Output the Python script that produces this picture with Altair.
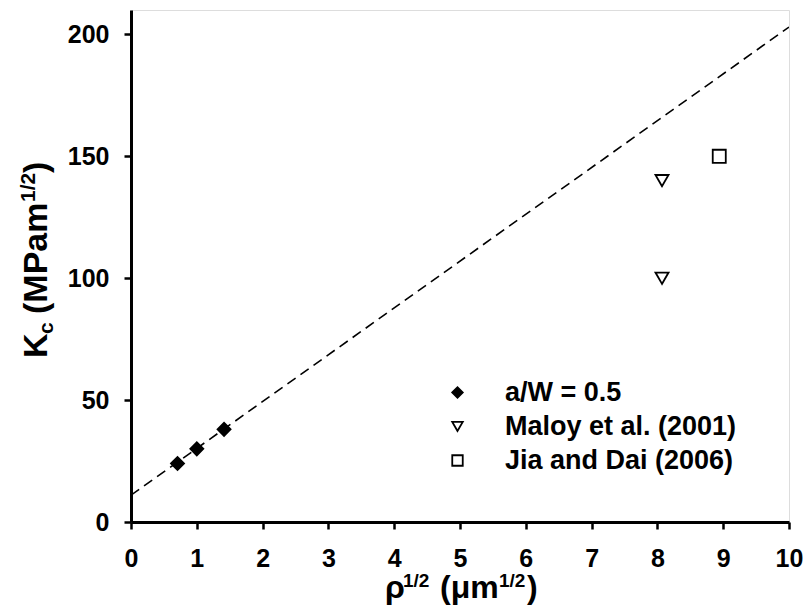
import altair as alt
import pandas as pd

# ---- data ----
aw_x = [0.707, 1.0, 1.414]
aw_y = [24, 30, 38]
maloy_x = [8.07, 8.07]
maloy_y = [140, 100]
jia_x = [8.94]
jia_y = [150]
fit_x = [0, 10]
fit_y = [11, 203]
series_names = ["a/W = 0.5", "Maloy et al. (2001)", "Jia and Dai (2006)"]
x_ticks = [i * 0.5 for i in range(21)]
y_ticks = [0, 50, 100, 150, 200]

pts = pd.DataFrame({
    "x": aw_x + maloy_x + jia_x,
    "y": aw_y + maloy_y + jia_y,
    "series": [series_names[0]] * len(aw_x) + [series_names[1]] * len(maloy_x) + [series_names[2]] * len(jia_x),
})
line_df = pd.DataFrame({"x": fit_x, "y": fit_y})

W, H = 658, 512
FONT = "Liberation Sans"

xscale = alt.Scale(domain=[0, 10], nice=False, zero=False)
yscale = alt.Scale(domain=[0, 210], nice=False, zero=False)

xaxis = alt.Axis(values=x_ticks,
                 labelExpr="datum.value % 1 == 0 ? format(datum.value, 'd') : ''",
                 labelOverlap=False, labelBound=False, labelFlush=False,
                 title=None, grid=False, tickSize=7, tickWidth=2.5, tickColor="black",
                 domainColor="black", domainWidth=3, labelFontSize=25, labelFont=FONT,
                 labelFontWeight="bold", labelColor="black", labelPadding=17)
yaxis = alt.Axis(values=y_ticks, title=None, grid=False, tickSize=7, tickWidth=2.5,
                 labelOverlap=False, labelFlush=False,
                 tickColor="black", domainColor="black", domainWidth=3, labelFontSize=25,
                 labelFont=FONT, labelFontWeight="bold", labelColor="black", labelPadding=15)

fit = alt.Chart(line_df).mark_line(color="black", strokeWidth=1.6, strokeDash=[10, 6], clip=True).encode(
    x=alt.X("x:Q", scale=xscale, axis=xaxis),
    y=alt.Y("y:Q", scale=yscale, axis=yaxis),
)

legend = alt.Legend(
    title=None, orient="none", legendX=313, legendY=369,
    labelFont=FONT, labelFontSize=27, labelFontWeight="bold", labelColor="black",
    symbolStrokeWidth=1.8, symbolSize=110, rowPadding=6,
    labelOffset=34, padding=0, labelLimit=400,
)

points = alt.Chart(pts).mark_point(filled=True, strokeWidth=1.8, size=170, opacity=1).encode(
    x=alt.X("x:Q", scale=xscale),
    y=alt.Y("y:Q", scale=yscale),
    shape=alt.Shape("series:N", scale=alt.Scale(domain=series_names, range=["diamond", "triangle-down", "square"]),
                    legend=legend),
    fill=alt.Fill("series:N", scale=alt.Scale(domain=series_names, range=["black", "white", "white"]),
                  legend=legend),
    stroke=alt.Stroke("series:N", scale=alt.Scale(domain=series_names, range=["black", "black", "black"]),
                      legend=legend),
)

base_txt = pd.DataFrame({"a": [0]})


def piece(text, x, y, size, angle=0):
    return alt.Chart(base_txt).mark_text(
        text=text, font=FONT, fontWeight="bold", fontSize=size, color="black",
        align="left", baseline="alphabetic", angle=angle,
    ).encode(x=alt.value(x), y=alt.value(y))


F, f = 32, 19
# x title: rho^{1/2} (mum^{1/2})
xt = [
    piece("ρ", 254, 588, F),
    piece("1/2", 272, 577, f),
    piece("(μm", 309, 588, F),
    piece("1/2", 368, 577, f),
    piece(")", 396, 588, F),
]
# y title: K_c (MPam^{1/2}), rotated
FY, fy = 34, 21
yt = [
    piece("K", -84, 348, FY, 270),
    piece("c", -78, 324, fy, 270),
    piece("(MPam", -84, 304, FY, 270),
    piece("1/2", -96, 192, fy, 270),
    piece(")", -84, 163, FY, 270),
]

chart = alt.layer(fit, points, *xt, *yt).properties(
    width=W, height=H,
    autosize=alt.AutoSizeParams(type="none"),
    padding={"left": 131, "top": 10, "right": 17, "bottom": 94},
).configure_view(
    stroke="black", strokeWidth=3
).configure(background="white")

chart.save("out.html", embed_options={"renderer": "svg", "actions": False})
